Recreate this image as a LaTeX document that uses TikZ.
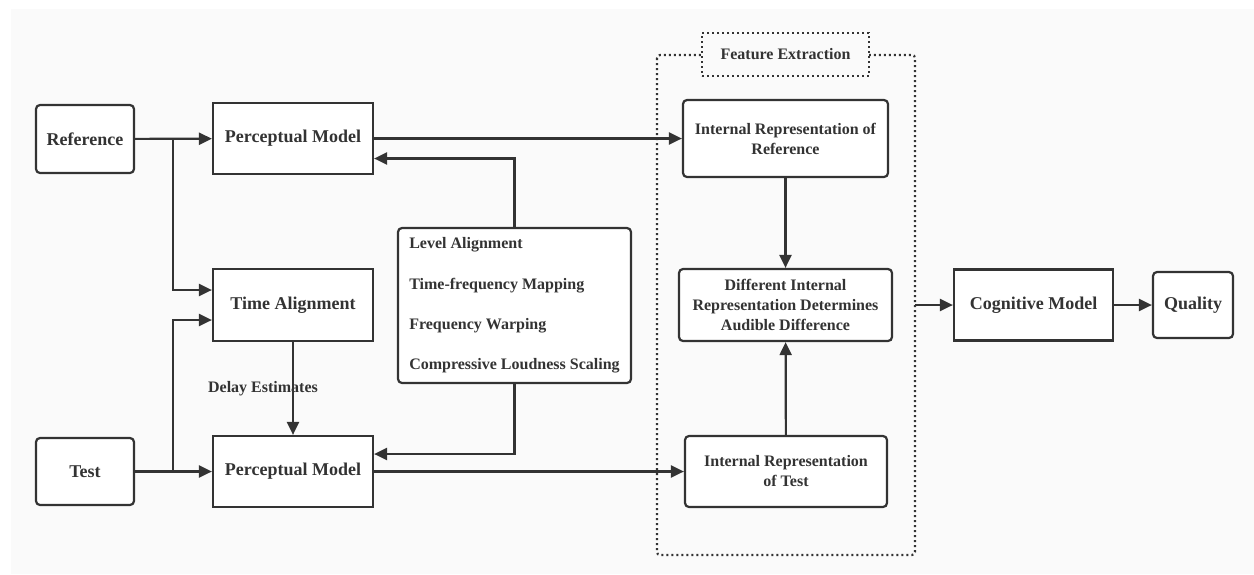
\documentclass[tikz,border=0pt]{standalone}
\usepackage{fontspec}
\setmainfont{Liberation Serif}
\usetikzlibrary{arrows.meta,calc}
\definecolor{ink}{HTML}{333333}
\definecolor{canvas}{HTML}{FAFAFA}
\tikzset{
  box/.style={draw=ink, line width=2.2pt, fill=white, text=ink, align=center,
    font=\fontsize{18}{21}\selectfont\bfseries, inner sep=0pt},
  rbox/.style={box, rounded corners=4pt},
  smallbox/.style={rbox, font=\fontsize{16}{20}\selectfont\bfseries},
  arr/.style={draw=ink, line width=2.2pt, -{Triangle[length=13pt,width=12pt]}},
  dotline/.style={draw=ink, line width=2.2pt, dash pattern=on 2pt off 3pt}
}
\begin{document}
\begin{tikzpicture}[x=1pt,y=-1pt]
  % page and canvas
  \useasboundingbox (0,0) rectangle (1254,574);
  \fill[white] (0,0) rectangle (1254,574);
  \fill[canvas] (11,9) rectangle (1254,574);

  % feature extraction group
  \draw[dotline, rounded corners=3pt] (657,55) rectangle (915,555);
  \node[dotline, fill=canvas,
        text=ink, font=\fontsize{16}{19}\selectfont\bfseries,
        minimum width=167pt, minimum height=43pt, inner sep=0pt]
        (fe) at (785.5,54.5) {Feature Extraction};

  % inputs
  \node[rbox, minimum width=98pt, minimum height=68pt] (ref) at (85,139) {Reference};
  \node[rbox, minimum width=98pt, minimum height=67pt] (test) at (85,471.5) {Test};

  % peripheral processing
  \node[box, minimum width=160pt, minimum height=71pt] (pmr) at (293,138.5) {Perceptual Model};
  \node[box, minimum width=160pt, minimum height=72pt] (ta) at (293,305) {Time Alignment};
  \node[box, minimum width=160pt, minimum height=71pt] (pmt) at (293,471.5) {Perceptual Model};

  \node[rbox, font=\fontsize{16}{40.3}\selectfont\bfseries, align=left,
        inner xsep=11pt, minimum width=233pt, minimum height=155pt]
        (lvl) at (514.5,305.5) {Level Alignment\\Time-frequency Mapping\\Frequency Warping\\Compressive Loudness Scaling};

  % internal representations
  \node[smallbox, minimum width=205pt, minimum height=77pt] (irr) at (785.5,138.5)
        {Internal Representation of\\Reference};
  \node[smallbox, minimum width=213pt, minimum height=72pt] (diff) at (785.5,305)
        {Different Internal\\Representation Determines\\Audible Difference};
  \node[smallbox, minimum width=202pt, minimum height=71pt] (irt) at (786,471.5)
        {Internal Representation\\of Test};

  % judgement
  \node[box, minimum width=159pt, minimum height=71pt] (cog) at (1033.5,305) {Cognitive Model};
  \node[rbox, minimum width=80pt, minimum height=66pt] (qual) at (1193,305) {Quality};

  % branch points and group exit
  \coordinate (rb) at (173,139);
  \coordinate (tb) at (173,471.5);
  \coordinate (fx) at (915,305);

  % signal flow
  \draw[arr] (ref) -- (pmr);
  \draw[arr] (rb) |- ($(ta.west)+(0,-15)$);
  \draw[arr] (test) -- (pmt);
  \draw[arr] (tb) |- ($(ta.west)+(0,15)$);
  \draw[arr] (ta) -- (pmt);
  \node[text=ink, font=\fontsize{16}{19}\selectfont\bfseries] (delay) at (263,389) {Delay Estimates};
  \draw[arr] (lvl.north) |- ($(pmr.east)+(0,20)$);
  \draw[arr] (lvl.south) |- ($(pmt.east)+(0,-17.5)$);
  \draw[arr] (pmr) -- (irr);
  \draw[arr] (pmt) -- (irt);
  \draw[arr] (irr) -- (diff);
  \draw[arr] (irt) -- (diff);
  \draw[arr] (fx) -- (cog);
  \draw[arr] (cog) -- (qual);
\end{tikzpicture}
\end{document}
